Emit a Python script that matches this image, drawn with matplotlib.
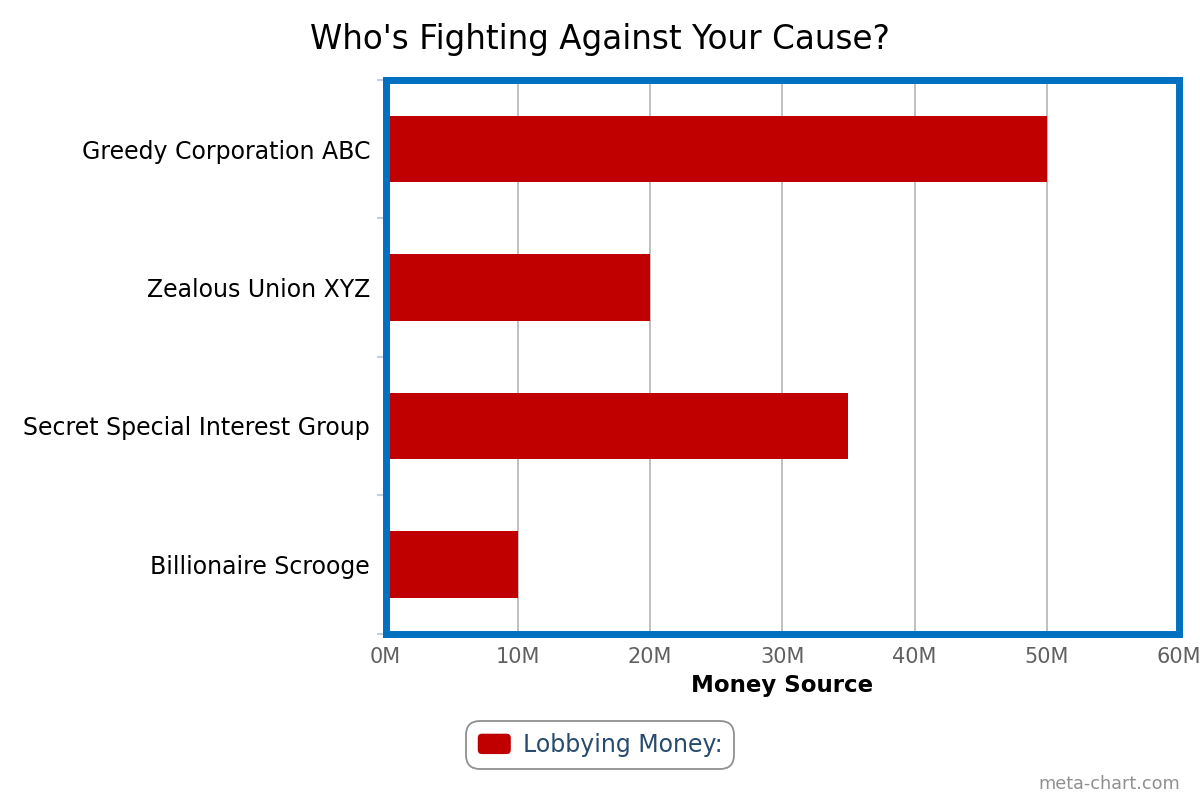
#!/usr/bin/env python3
"""Horizontal bar chart: lobbying money by source."""

import matplotlib
matplotlib.use("Agg")
import matplotlib.pyplot as plt
import matplotlib.patches as mpatches
from matplotlib.legend_handler import HandlerPatch
from matplotlib.ticker import FuncFormatter
import numpy as np

plt.rcParams["font.family"] = ["DejaVu Sans"]

# ── Data ──
sources = [
    "Greedy Corporation ABC",
    "Zealous Union XYZ",
    "Secret Special Interest Group",
    "Billionaire Scrooge",
]
lobbying_money = [50, 20, 35, 10]  # millions
x_ticks = [0, 10, 20, 30, 40, 50, 60]

BAR_RED = "#C00000"
BORDER_BLUE = "#0070C0"


class RoundedHandler(HandlerPatch):
    def create_artists(self, legend, orig_handle, xdescent, ydescent,
                       width, height, fontsize, trans):
        p = mpatches.FancyBboxPatch(
            (-xdescent, -ydescent), width, height,
            boxstyle="round,pad=0,rounding_size=3",
            facecolor=orig_handle.get_facecolor(), edgecolor="none",
            transform=trans)
        return [p]


# ── Figure ──
fig = plt.figure(figsize=(12, 8), dpi=100)
ax = fig.add_axes([0.32125, 0.208, 0.66125, 0.692])

y = np.arange(len(sources))
ax.barh(y, lobbying_money, height=0.48, color=BAR_RED, zorder=2)

ax.set_ylim(len(sources) - 0.5, -0.5)
ax.set_xlim(x_ticks[0], x_ticks[-1])

# ── Y axis ──
ax.set_yticks(y)
ax.set_yticklabels(sources, fontsize=17, color="black")
ax.tick_params(axis="y", which="major", length=0, pad=11)
ax.set_yticks(np.arange(-0.5, len(sources)), minor=True)
ax.tick_params(axis="y", which="minor", length=6.5, width=1.5,
               color="#C0D0E0", direction="out")

# ── X axis ──
ax.set_xticks(x_ticks)
ax.xaxis.set_major_formatter(FuncFormatter(lambda v, _: f"{int(v)}M"))
ax.tick_params(axis="x", length=0, pad=9.5, labelsize=15, labelcolor="#606060")
ax.set_xlabel("Money Source", fontsize=16.5, fontweight="bold", labelpad=5)

ax.grid(axis="x", color="#C0C0C0", linewidth=1.4)
ax.set_axisbelow(True)

for sp in ax.spines.values():
    sp.set_color(BORDER_BLUE)
    sp.set_linewidth(5.0)
    sp.set_zorder(5)

# ── Title ──
fig.text(0.5, 1 - 40 / 800, "Who's Fighting Against Your Cause?",
         ha="center", va="center", fontsize=23.5, color="black")

# ── Legend ──
leg = fig.legend(
    handles=[mpatches.Patch(facecolor=BAR_RED, label="Lobbying Money:")],
    handler_map={mpatches.Patch: RoundedHandler()},
    loc="center", bbox_to_anchor=(0.5, 1 - 745 / 800),
    fontsize=17, frameon=True, fancybox=True, edgecolor="#909090",
    framealpha=1, handlelength=1.4, handleheight=0.95, handletextpad=0.5,
    borderpad=0.5, borderaxespad=0,
)
leg.get_frame().set_linewidth(1.3)
leg.get_frame().set_boxstyle("round", pad=0, rounding_size=0.6)
for t in leg.get_texts():
    t.set_color("#274B6D")

fig.text(1180 / 1200, 1 - 784 / 800, "meta-chart.com", ha="right", va="center",
         fontsize=12.7, color="#909090")

fig.savefig("out.png", dpi=100, facecolor="white")
